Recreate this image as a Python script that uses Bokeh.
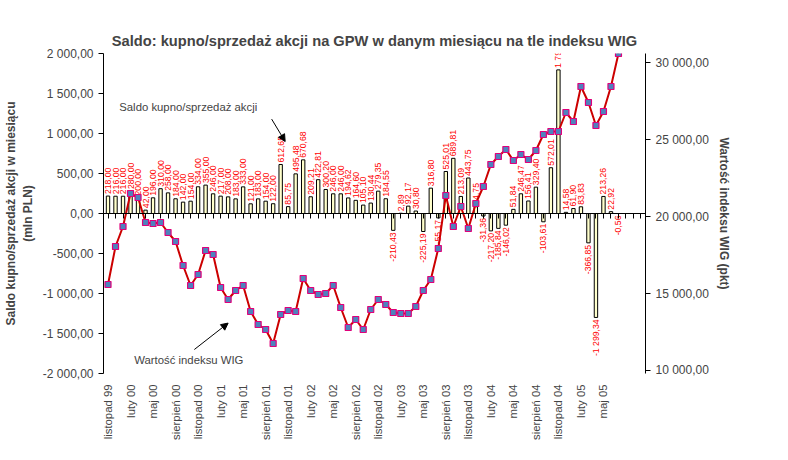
import numpy as np
from bokeh.plotting import figure
from bokeh.models import Range1d, LinearAxis, FixedTicker, CustomJSTickFormatter, Label, Arrow, NormalHead, ColumnDataSource
from bokeh.embed import file_html
from bokeh.resources import INLINE

saldo = [218,216,216,280,200,42,196,310,258,184,142,154,334,355,246,217,208,183,333,121,183,154,122,612.65,85.75,495.48,
         670.68,209.21,422.81,300.20,246,246,194.62,164.60,105.10,130.44,279.35,184.55,-210.43,2.89,92.17,30.80,-225.19,316.80,
         -55.17,525.01,689.81,213.09,443.75,84.75,-31.36,-217.20,-185.84,-146.02,51.84,246.47,156.41,329.40,-103.61,572.01,
         1795.29,14.58,61.90,83.83,-366.85,-1299.34,213.26,22.92,-0.56]
wig_y = [292,254,234,201,205,230,231,230,240,249,273,293,282,258,262,295,307,298,293,319,332,337,351,322,318,319,
         286,298,302,301,293,315,335,327,337,317,307,312,320,321,321,314,298,287,256,203,234,214,236,211,194,172,164,157,
         168,162,167,158,142,139,139,120,129,94,110,133,119,94,61]
wig = [9800 + (381 - v) * 65 for v in wig_y]
months = ["styczeń","luty","marzec","kwiecień","maj","czerwiec","lipiec","sierpień","wrzesień","październik","listopad","grudzień"]
n = len(saldo)
x = list(range(n))
tick_pos = list(range(0, 69, 3))
tick_labels = {}
for i in tick_pos:
    m = (10 + i) % 12
    y = (1999 + (10 + i) // 12) % 100
    tick_labels[i] = f"{months[m]} {y:02d}"

p = figure(frame_width=542, frame_height=320, output_backend="svg", toolbar_location=None,
           x_range=Range1d(-0.6, 71.6), y_range=Range1d(-2000, 2000),
           title="Saldo: kupno/sprzedaż akcji na GPW w danym miesiącu na tle indeksu WIG",
           min_border_left=10, min_border_right=10, min_border_top=53, min_border_bottom=5)
p.title.align = "center"
p.title.text_font = "Liberation Sans"
p.title.text_font_size = "11pt"
p.title.offset = 0
p.grid.visible = False
p.outline_line_color = None
p.extra_y_ranges = {"wig": Range1d(9800, 30600)}

src = ColumnDataSource(dict(x=x, s=saldo, w=wig, lab=[f"{v:,.2f}".replace(",", " ").replace(".", ",") for v in saldo],
                            ly=[v + 25 if v >= 0 else v - 25 for v in saldo],
                            al=["left" if v >= 0 else "right" for v in saldo]))
p.vbar(x="x", top="s", bottom=0, width=0.45, source=src, fill_color="#ffffcc", line_color="black", line_width=1)
p.text(x="x", y="ly", text="lab", angle=np.pi/2, text_align="al", text_baseline="middle",
       text_font_size="6.5pt", text_color="#ff0000", source=src)
p.line(x="x", y="w", source=src, y_range_name="wig", line_color="#cc0000", line_width=2)
p.scatter(x="x", y="w", source=src, y_range_name="wig", marker="square", size=6,
          fill_color="#4f81bd", line_color="#e0007a", line_width=1.2)

fmt = CustomJSTickFormatter(code="var s=Math.abs(tick).toFixed(2).replace('.',',');var i=s.indexOf(',');var a=s.slice(0,i);if(a.length>3)a=a.slice(0,a.length-3)+' '+a.slice(-3);return (tick<0?'-':'')+a+s.slice(i);")
p.yaxis.ticker = FixedTicker(ticks=list(range(-2000, 2001, 500)))
p.yaxis.formatter = fmt
p.yaxis.axis_label = "Saldo kupno/sprzedaż akcji w miesiącu\n(mln PLN)"
ax2 = LinearAxis(y_range_name="wig", ticker=FixedTicker(ticks=[10000, 15000, 20000, 25000, 30000]),
                 axis_label="Wartość indeksu WIG (pkt)", formatter=fmt)
p.add_layout(ax2, "right")
for ax in (p.yaxis[0], ax2):
    ax.axis_label_text_font_style = "bold"
    ax.axis_label_text_font_size = "9pt"
    ax.major_label_text_font_size = "9pt"
    ax.minor_tick_line_color = None
    ax.major_tick_out = 5
    ax.major_tick_in = 0
p.xaxis.visible = False
xa = LinearAxis(fixed_location=0, ticker=FixedTicker(ticks=list(range(0, 72))), major_label_text_font_size="0pt",
                major_tick_out=5, major_tick_in=0, minor_tick_line_color=None)
p.add_layout(xa, "below")
xb = LinearAxis(ticker=FixedTicker(ticks=tick_pos), major_label_overrides=tick_labels,
                major_label_orientation=np.pi/2, major_label_text_font_size="8.5pt",
                axis_line_color=None, major_tick_line_color=None, minor_tick_line_color=None)
p.add_layout(xb, "below")

p.add_layout(Label(x=1.5, y=1260, text="Saldo kupno/sprzedaż akcji", text_font_size="8.5pt"))
p.add_layout(Arrow(end=NormalHead(size=7, fill_color="black"), x_start=21.8, y_start=1180, x_end=23.6, y_end=900, line_width=1))
p.add_layout(Label(x=3.5, y=-1900, text="Wartość indeksu WIG", text_font_size="8.5pt"))
p.add_layout(Arrow(end=NormalHead(size=7, fill_color="black"), x_start=11.5, y_start=-1700, x_end=16.0, y_end=-1370, line_width=1))

open("out.html", "w").write(file_html(p, INLINE))
